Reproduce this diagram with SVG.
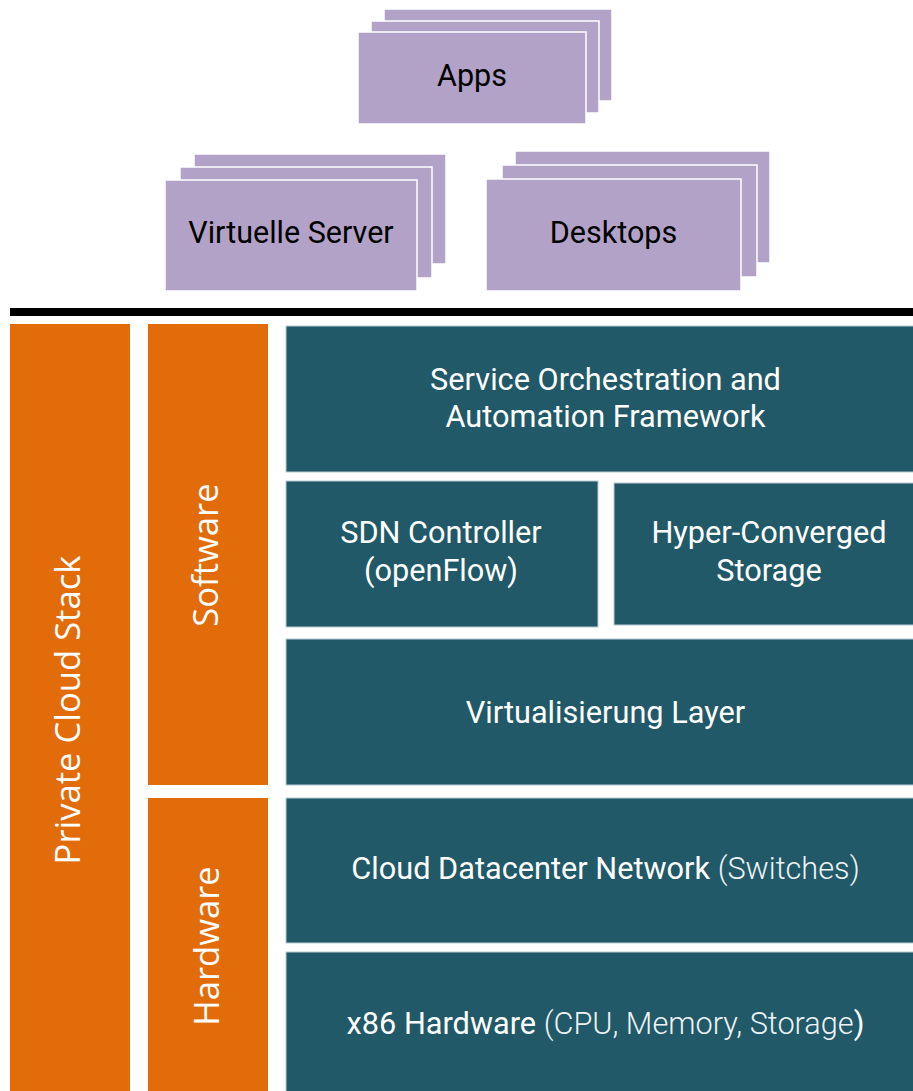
<svg xmlns="http://www.w3.org/2000/svg" width="913" height="1091" viewBox="0 0 913 1091">
<style>
.p{fill:#b2a2c7;stroke:#ffffff;stroke-width:1.5}
.pt{font-family:Roboto,"Liberation Sans",sans-serif;font-size:30.5px;fill:#000000;text-anchor:middle}
.o{fill:#e36c0a}
.ot{font-family:"Open Sans","Liberation Sans",sans-serif;font-size:34.6px;fill:#ffffff;text-anchor:middle}
.t{fill:#215968;stroke:#b9cbd1;stroke-width:1}
.tt{font-family:Roboto,"Liberation Sans",sans-serif;font-size:30.7px;fill:#ffffff;text-anchor:middle}
.l{font-weight:300;fill:#eef3f5}
</style>
<rect width="913" height="1091" fill="#ffffff"/>
<g id="apps">
<rect class="p" x="384" y="9" width="228" height="92"/>
<rect class="p" x="371" y="21" width="228" height="92"/>
<rect class="p" x="358" y="32" width="228" height="92"/>
<text class="pt" x="472" y="86">Apps</text>
</g>
<g id="virtuelle-server">
<rect class="p" x="194" y="154" width="252" height="110"/>
<rect class="p" x="180" y="167" width="252" height="111"/>
<rect class="p" x="165" y="180" width="252" height="111"/>
<text class="pt" x="291" y="243">Virtuelle Server</text>
</g>
<g id="desktops">
<rect class="p" x="515" y="151" width="255" height="112"/>
<rect class="p" x="502" y="165" width="255" height="112"/>
<rect class="p" x="486" y="179" width="255" height="112"/>
<text class="pt" x="613.5" y="243">Desktops</text>
</g>
<g id="divider">
<rect x="10" y="308" width="903" height="8" fill="#000000"/>
</g>
<g id="private-cloud-stack">
<rect class="o" x="10" y="324" width="120" height="767"/>
<text class="ot" transform="translate(80,710) rotate(-90)">Private Cloud Stack</text>
</g>
<g id="software">
<rect class="o" x="148" y="324" width="120" height="461"/>
<text class="ot" transform="translate(218,555) rotate(-90)">Software</text>
</g>
<g id="hardware">
<rect class="o" x="148" y="798" width="120" height="293"/>
<text class="ot" transform="translate(219,946) rotate(-90)">Hardware</text>
</g>
<g id="service-orchestration">
<rect class="t" x="286" y="326" width="640" height="146"/>
<text class="tt" x="605.5" y="390">Service Orchestration and</text>
<text class="tt" x="605.5" y="427">Automation Framework</text>
</g>
<g id="sdn-controller">
<rect class="t" x="286" y="481" width="312" height="146"/>
<text class="tt" x="441" y="543">SDN Controller</text>
<text class="tt" x="441" y="581">(openFlow)</text>
</g>
<g id="hyper-converged-storage">
<rect class="t" x="614" y="483" width="311" height="142"/>
<text class="tt" x="769" y="543">Hyper-Converged</text>
<text class="tt" x="769" y="581">Storage</text>
</g>
<g id="virtualisierung-layer">
<rect class="t" x="286" y="639" width="640" height="146"/>
<text class="tt" x="605.5" y="722.5">Virtualisierung Layer</text>
</g>
<g id="cloud-datacenter-network">
<rect class="t" x="286" y="798" width="640" height="145"/>
<text class="tt" x="605.5" y="879">Cloud Datacenter Network <tspan class="l">(Switches)</tspan></text>
</g>
<g id="x86-hardware">
<rect class="t" x="286" y="952" width="640" height="140"/>
<text class="tt" x="605.5" y="1034">x86 Hardware <tspan class="l">(CPU, Memory, Storage</tspan>)</text>
</g>
<g id="connectors"></g>
</svg>
